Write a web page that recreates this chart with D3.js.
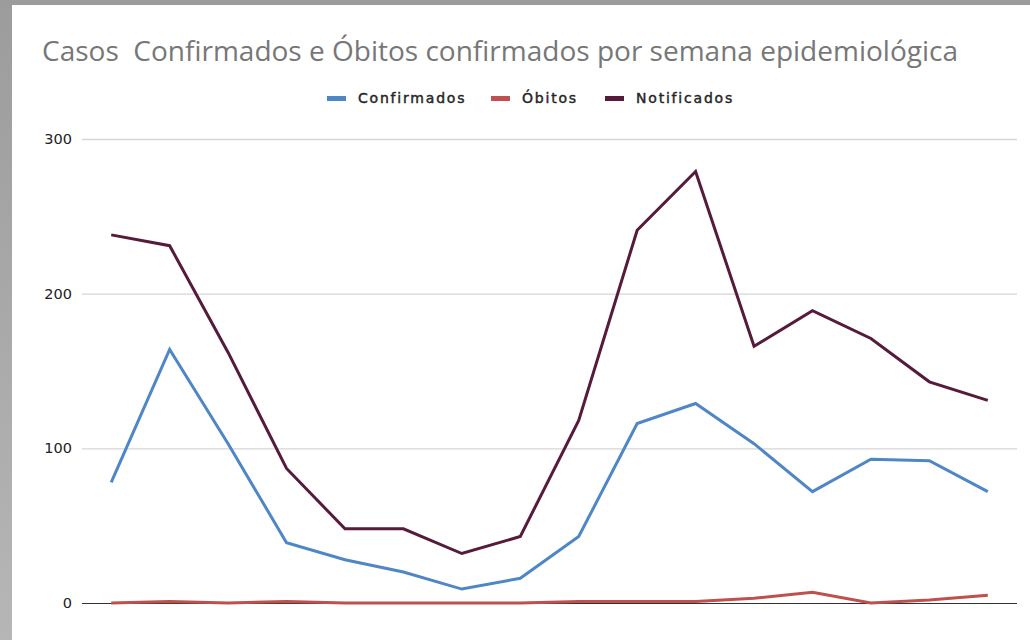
<!DOCTYPE html>
<html>
<head>
<meta charset="utf-8">
<script src="https://cdn.jsdelivr.net/npm/d3@7"></script>
<style>
  body { margin: 0; background: #fff; }
  svg { display: block; }
</style>
</head>
<body>
<div id="chart"></div>
<script>
// semanas epidemiologicas (sem rotulo no eixo)
const semanas = d3.range(1, 17);
const confirmados = [78, 164, 103, 39, 28, 20, 9, 16, 43, 116, 129, 103, 72, 93, 92, 72];
const obitos = [0, 1, 0, 1, 0, 0, 0, 0, 1, 1, 1, 3, 7, 0, 2, 5];
const notificados = [238, 231, 162, 87, 48, 48, 32, 43, 118, 241, 279, 166, 189, 171, 143, 131];
const yTicks = [0, 100, 200, 300];

const series = [
  { name: "Confirmados", values: confirmados, color: "#4f86c6" },
  { name: "Óbitos", values: obitos, color: "#c0504d" },
  { name: "Notificados", values: notificados, color: "#561a3b" }
];

const W = 1030, H = 640;
const svg = d3.select("#chart").append("svg")
  .attr("width", W)
  .attr("height", H);

// moldura cinza da captura
const grad = svg.append("defs").append("linearGradient")
  .attr("id", "borda").attr("x1", 0).attr("y1", 0).attr("x2", 0).attr("y2", 1);
grad.append("stop").attr("offset", "0%").attr("stop-color", "#9c9c9c");
grad.append("stop").attr("offset", "100%").attr("stop-color", "#b6b6b6");
svg.append("rect").attr("x", 0).attr("y", 0).attr("width", 12).attr("height", H).attr("fill", "url(#borda)");
svg.append("rect").attr("x", 0).attr("y", 0).attr("width", W).attr("height", 5).attr("fill", "#9c9c9c");

const x = d3.scaleBand().domain(semanas).range([82, 1017]);
const y = d3.scaleLinear().domain([0, 300]).range([603, 139]);

// titulo
svg.append("text")
  .attr("x", 42).attr("y", 61)
  .attr("font-family", "Open Sans, sans-serif")
  .attr("font-size", 26.5)
  .attr("fill", "#777")
  .attr("xml:space", "preserve")
  .attr("textLength", 916)
  .attr("lengthAdjust", "spacingAndGlyphs")
  .text("Casos  Confirmados e Óbitos confirmados por semana epidemiológica");

// grade
svg.append("g").selectAll("line")
  .data(yTicks.filter(d => d > 0))
  .join("line")
  .attr("x1", 82).attr("x2", 1017)
  .attr("y1", d => y(d) + 0.5).attr("y2", d => y(d) + 0.5)
  .attr("stroke", "#d6d6d6").attr("stroke-width", 1.3);

// eixo y
const yAxis = svg.append("g")
  .attr("transform", "translate(72,0)")
  .call(d3.axisLeft(y).tickValues(yTicks).tickSize(0).tickPadding(0));
yAxis.select(".domain").remove();
yAxis.selectAll("text")
  .attr("font-family", "DejaVu Sans, sans-serif")
  .attr("font-size", 14.5)
  .attr("fill", "#222");

// linha do zero
svg.append("line")
  .attr("x1", 82).attr("x2", 1017)
  .attr("y1", y(0) + 0.5).attr("y2", y(0) + 0.5)
  .attr("stroke", "#333").attr("stroke-width", 1.2);

const line = d3.line()
  .x((d, i) => x(semanas[i]) + x.bandwidth() / 2)
  .y(d => y(d));

svg.append("g").selectAll("path")
  .data(series)
  .join("path")
  .attr("d", d => line(d.values))
  .attr("fill", "none")
  .attr("stroke", d => d.color)
  .attr("stroke-width", 3)
  .attr("stroke-linejoin", "miter");

// legenda
const legX = [327, 491, 605];
const leg = svg.append("g").selectAll("g")
  .data(series)
  .join("g")
  .attr("transform", (d, i) => `translate(${legX[i]},98)`);
leg.append("rect")
  .attr("x", 0).attr("y", -2).attr("width", 19).attr("height", 5)
  .attr("fill", d => d.color);
leg.append("text")
  .attr("x", 31).attr("y", 5)
  .attr("font-family", "DejaVu Sans, sans-serif")
  .attr("font-size", 14)
  .attr("letter-spacing", 1.8)
  .attr("fill", "#262626")
  .attr("stroke", "#262626")
  .attr("stroke-width", 0.45)
  .text(d => d.name);
</script>
</body>
</html>
